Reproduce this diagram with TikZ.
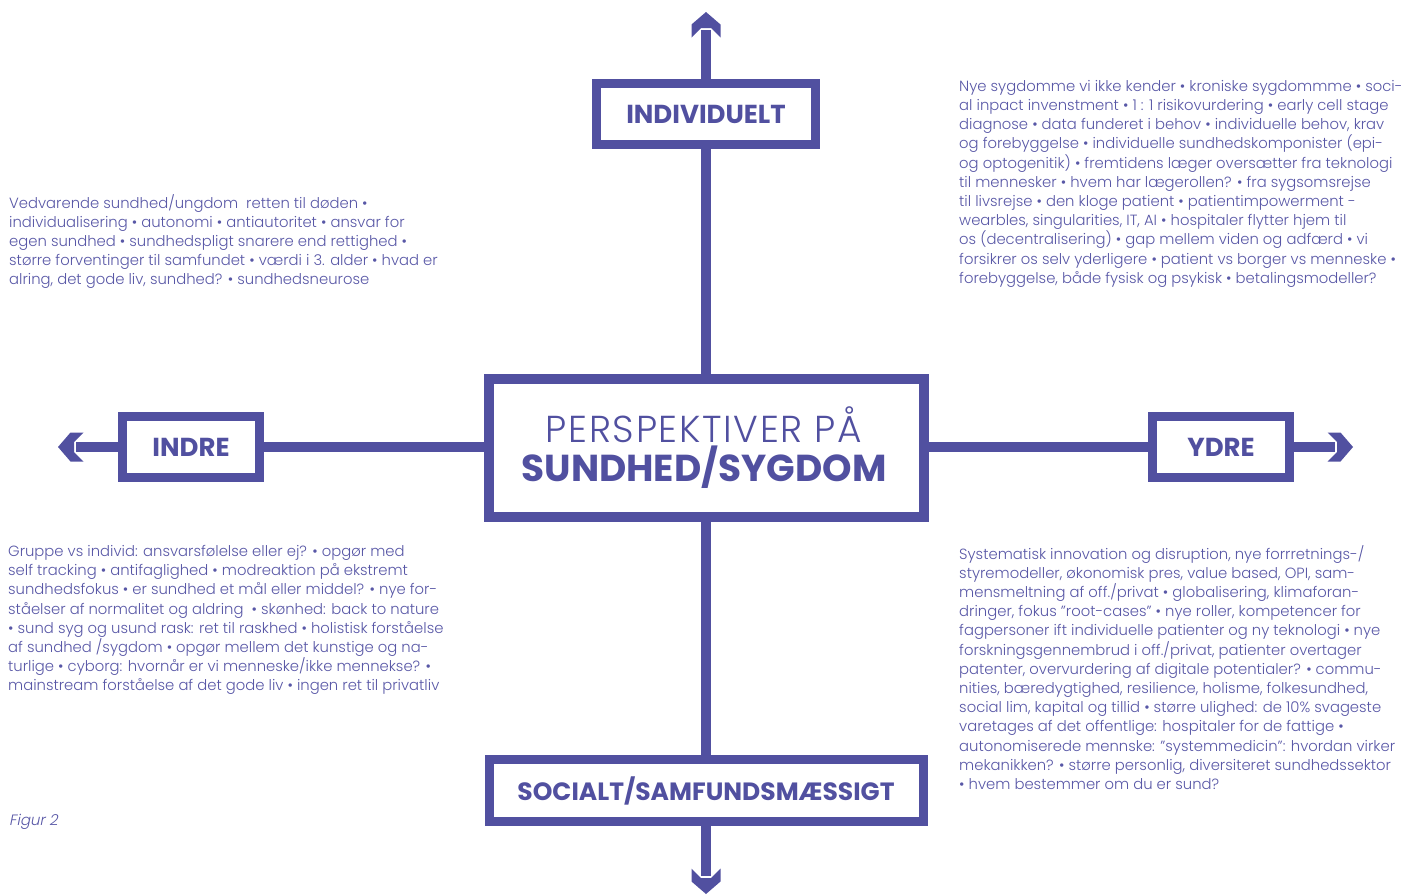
\documentclass[tikz,border=0pt]{standalone}
\usepackage{fontspec}
\setmainfont{Poppins}
\IfFontExistsTF{Poppins Light}{\newfontfamily\lightfont{Poppins Light}}{\newfontfamily\lightfont{Poppins}}
\IfFontExistsTF{Poppins Light}{\newfontfamily\bodyfont{Poppins Light}}{\newfontfamily\bodyfont{Poppins}}
\IfFontExistsTF{Poppins Light}{\newfontfamily\titlefont[LetterSpace=4.5]{Poppins Light}}{\newfontfamily\titlefont[LetterSpace=4.5]{Poppins}}
\IfFontExistsTF{Poppins Light}{\newfontfamily\figfont[FakeSlant=0.2]{Poppins Light}}{\newfontfamily\figfont[FakeSlant=0.2]{Poppins}}
\definecolor{axiscol}{RGB}{81,80,160}
\definecolor{textcol}{RGB}{88,87,166}
\tikzset{
  box/.style={draw=axiscol, line width=9pt, fill=white, inner sep=0pt, text=axiscol, align=center},
  lbl/.style={font=\fontsize{26}{26}\selectfont\bfseries},
  axis/.style={draw=axiscol, line width=10pt},
  blurb/.style={text=textcol, align=left, inner sep=0pt, anchor=north west, font=\bodyfont\fontsize{14.8}{19.2}\selectfont},
  ttl/.style={text=axiscol, inner sep=0pt, anchor=base},
  ahead/.pic={\fill[axiscol] (0,0) -- (-12.5,-14.5) -- (-25.5,-14.5) -- (-16,-5) -- (-16,5) -- (-25.5,14.5) -- (-12.5,14.5) -- cycle;}
}
\begin{document}
\begin{tikzpicture}[x=1pt,y=-1pt]
\useasboundingbox (0,0) rectangle (1405,894);
% end points of the axes
\coordinate (toptip) at (706,12);   \coordinate (topend) at (706,30);
\coordinate (bottip) at (706,894);  \coordinate (botend) at (706,876);
\coordinate (lefttip) at (58,447);  \coordinate (leftend) at (76,447);
\coordinate (righttip) at (1353,447); \coordinate (rightend) at (1335,447);
% boxes
\node[box, line width=10pt, minimum width=435pt, minimum height=138pt] (center) at (706,448) {};
\node[ttl, font=\titlefont\fontsize{37.5}{39}\selectfont] (title1) at (704,442.5) {PERSPEKTIVER PÅ};
\node[ttl, font=\fontsize{37.5}{39}\selectfont\bfseries] (title2) at (704,481.5) {SUNDHED/SYGDOM};
\node[box, lbl, minimum width=219pt, minimum height=61pt] (indiv) at (706,114) {INDIVIDUELT};
\node[box, lbl, minimum width=137pt, minimum height=61pt] (indre) at (191,447) {INDRE};
\node[box, lbl, minimum width=137pt, minimum height=61pt] (ydre) at (1221,447) {YDRE};
\node[box, lbl, font=\fontsize{25}{25}\selectfont\bfseries, minimum width=434pt, minimum height=62pt] (social) at (706,790.5) {SOCIALT/SAMFUNDSMÆSSIGT};
% connectors
\draw[axis] (center.north) -- (indiv.south);
\draw[axis] (indiv.north) -- (topend);
\draw[axis] (center.south) -- (social.north);
\draw[axis] (social.south) -- (botend);
\draw[axis] (indre.east -| center.west) -- (indre.east);
\draw[axis] (indre.west) -- (leftend);
\draw[axis] (ydre.west -| center.east) -- (ydre.west);
\draw[axis] (ydre.east) -- (rightend);
\pic[rotate=90] at (toptip) {ahead};
\pic[rotate=-90] at (bottip) {ahead};
\pic[rotate=180] at (lefttip) {ahead};
\pic at (righttip) {ahead};
% texts
\node[blurb] (tl) at (9,194) {Vedvarende sundhed/ungdom~ retten til døden •\\
individualisering • autonomi • antiautoritet • ansvar for\\
egen sundhed • sundhedspligt snarere end rettighed •\\
større forventinger til samfundet • værdi i 3. alder • hvad er\\
alring, det gode liv, sundhed? • sundhedsneurose};
\node[blurb] (tr) at (959,80) {Nye sygdomme vi ikke kender • kroniske sygdommme • soci-\\
al inpact invenstment • 1 : 1 risikovurdering • early cell stage\\
diagnose • data funderet i behov • individuelle behov, krav\\
og forebyggelse • individuelle sundhedskomponister (epi-\\
og optogenitik) • fremtidens læger oversætter fra teknologi\\
til mennesker • hvem har lægerollen? • fra sygsomsrejse\\
til livsrejse • den kloge patient • patientimpowerment -\\
wearbles, singularities, IT, AI • hospitaler flytter hjem til\\
os (decentralisering) • gap mellem viden og adfærd • vi\\
forsikrer os selv yderligere • patient vs borger vs menneske •\\
forebyggelse, både fysisk og psykisk • betalingsmodeller?};
\node[blurb] (bl) at (8,545) {Gruppe vs individ: ansvarsfølelse eller ej? • opgør med\\
self tracking • antifaglighed • modreaktion på ekstremt\\
sundhedsfokus • er sundhed et mål eller middel? • nye for-\\
ståelser af normalitet og aldring~ • skønhed: back to nature\\
• sund syg og usund rask: ret til raskhed • holistisk forståelse\\
af sundhed /sygdom • opgør mellem det kunstige og na-\\
turlige • cyborg: hvornår er vi menneske/ikke mennekse? •\\
mainstream forståelse af det gode liv • ingen ret til privatliv};
\node[blurb] (br) at (959,545) {Systematisk innovation og disruption, nye forrretnings-/\\
styremodeller, økonomisk pres, value based, OPI, sam-\\
mensmeltning af off./privat • globalisering, klimaforan-\\
dringer, fokus ”root-cases” • nye roller, kompetencer for\\
fagpersoner ift individuelle patienter og ny teknologi • nye\\
forskningsgennembrud i off./privat, patienter overtager\\
patenter, overvurdering af digitale potentialer? • commu-\\
nities, bæredygtighed, resilience, holisme, folkesundhed,\\
social lim, kapital og tillid • større ulighed: de 10\% svageste\\
varetages af det offentlige: hospitaler for de fattige •\\
autonomiserede mennske: ”systemmedicin”: hvordan virker\\
mekanikken? • større personlig, diversiteret sundhedssektor\\
• hvem bestemmer om du er sund?};
\node[text=textcol, anchor=west, inner sep=0pt, font=\figfont\fontsize{15}{18}\selectfont] (fig) at (9,822) {Figur 2};
\end{tikzpicture}
\end{document}
